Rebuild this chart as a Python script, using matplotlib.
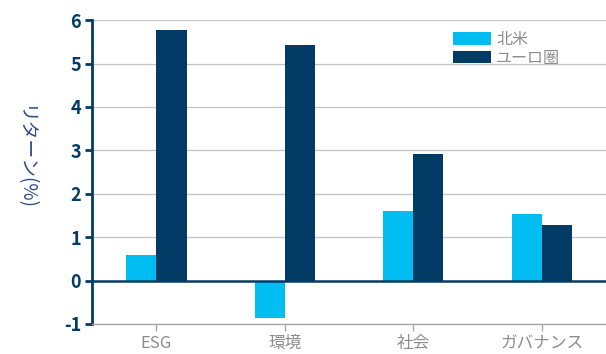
import numpy as np
import matplotlib
matplotlib.use('Agg')
import matplotlib.pyplot as plt

plt.rcParams['font.family'] = ['Noto Sans CJK JP', 'DejaVu Sans']

#%% data
categories = ['ESG', '環境', '社会', 'ガバナンス']
north_america = [0.58, -0.87, 1.60, 1.53]
eurozone = [5.77, 5.42, 2.91, 1.27]
series_names = ['北米', 'ユーロ圏']
yticks = [-1, 0, 1, 2, 3, 4, 5, 6]

light = '#00BEF2'
navy = '#023C66'
grey = '#8C8C8C'

#%% plot
fig = plt.figure(figsize=(6.06, 3.54), dpi=100)
ax = fig.add_axes([0.152, 0.085, 0.848, 0.858])

x = np.arange(len(categories))
w = 0.235
ax.bar(x - w/2, north_america, w, color=light, label=series_names[0], zorder=3)
ax.bar(x + w/2, eurozone, w, color=navy, label=series_names[1], zorder=3)

ax.set_xlim(-0.5, len(categories) - 0.5)
ax.set_ylim(-1, 6)
ax.set_yticks(yticks)
ax.set_yticklabels([str(t) for t in yticks], fontsize=13, color=navy, fontweight='bold')
ax.set_xticks(x)
ax.set_xticklabels(categories, fontsize=12, color=grey)

for t in yticks:
    if t != 0:
        ax.axhline(t, color='#C4C4C4', lw=0.9, zorder=1)
ax.axhline(0, color=navy, lw=1.8, zorder=4)

for s in ['top', 'right']:
    ax.spines[s].set_visible(False)
ax.spines['left'].set_color(navy)
ax.spines['left'].set_linewidth(2)
ax.spines['bottom'].set_color('#A8A8A8')
ax.spines['bottom'].set_linewidth(1)
ax.tick_params(axis='y', length=5, width=2, color=navy, pad=3)
ax.tick_params(axis='x', length=5, width=1, color='#A8A8A8', pad=3)

ax.set_ylabel('リターン(%)', rotation=-90, fontsize=13.5, color='#2E4D8A',
              va='center', ha='center')
ax.yaxis.set_label_coords(-0.132, 0.545)

leg = ax.legend(loc='upper left', bbox_to_anchor=(0.69, 0.985), frameon=False,
                fontsize=11.5, handlelength=2.4, handleheight=0.8,
                handletextpad=0.3, labelspacing=0.1, borderaxespad=0)
for txt in leg.get_texts():
    txt.set_color(grey)

fig.savefig('out.png', dpi=100)
